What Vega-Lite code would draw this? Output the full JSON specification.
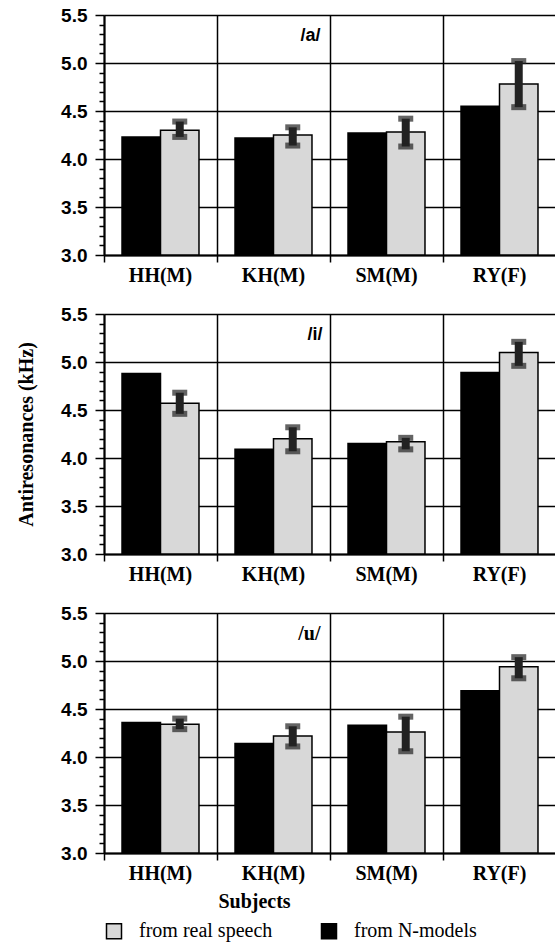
{
  "$schema": "https://vega.github.io/schema/vega-lite/v6.json",
  "background": "white",
  "padding": {"left": 15, "top": 6, "right": 0, "bottom": 0},
  "config": {"view": {"stroke": null}},
  "datasets": {
    "bars": [
      {"vowel": "/a/", "subject": "HH(M)", "source": "from N-models", "value": 4.23},
      {"vowel": "/a/", "subject": "HH(M)", "source": "from real speech", "value": 4.30, "lo": 4.23, "hi": 4.39},
      {"vowel": "/a/", "subject": "KH(M)", "source": "from N-models", "value": 4.22},
      {"vowel": "/a/", "subject": "KH(M)", "source": "from real speech", "value": 4.25, "lo": 4.14, "hi": 4.33},
      {"vowel": "/a/", "subject": "SM(M)", "source": "from N-models", "value": 4.27},
      {"vowel": "/a/", "subject": "SM(M)", "source": "from real speech", "value": 4.28, "lo": 4.13, "hi": 4.42},
      {"vowel": "/a/", "subject": "RY(F)", "source": "from N-models", "value": 4.55},
      {"vowel": "/a/", "subject": "RY(F)", "source": "from real speech", "value": 4.78, "lo": 4.54, "hi": 5.02},
      {"vowel": "/i/", "subject": "HH(M)", "source": "from N-models", "value": 4.88},
      {"vowel": "/i/", "subject": "HH(M)", "source": "from real speech", "value": 4.57, "lo": 4.46, "hi": 4.68},
      {"vowel": "/i/", "subject": "KH(M)", "source": "from N-models", "value": 4.09},
      {"vowel": "/i/", "subject": "KH(M)", "source": "from real speech", "value": 4.20, "lo": 4.07, "hi": 4.32},
      {"vowel": "/i/", "subject": "SM(M)", "source": "from N-models", "value": 4.15},
      {"vowel": "/i/", "subject": "SM(M)", "source": "from real speech", "value": 4.17, "lo": 4.09, "hi": 4.21},
      {"vowel": "/i/", "subject": "RY(F)", "source": "from N-models", "value": 4.89},
      {"vowel": "/i/", "subject": "RY(F)", "source": "from real speech", "value": 5.10, "lo": 4.96, "hi": 5.21},
      {"vowel": "/u/", "subject": "HH(M)", "source": "from N-models", "value": 4.36},
      {"vowel": "/u/", "subject": "HH(M)", "source": "from real speech", "value": 4.34, "lo": 4.29, "hi": 4.40},
      {"vowel": "/u/", "subject": "KH(M)", "source": "from N-models", "value": 4.14},
      {"vowel": "/u/", "subject": "KH(M)", "source": "from real speech", "value": 4.22, "lo": 4.11, "hi": 4.32},
      {"vowel": "/u/", "subject": "SM(M)", "source": "from N-models", "value": 4.33},
      {"vowel": "/u/", "subject": "SM(M)", "source": "from real speech", "value": 4.26, "lo": 4.06, "hi": 4.42},
      {"vowel": "/u/", "subject": "RY(F)", "source": "from N-models", "value": 4.69},
      {"vowel": "/u/", "subject": "RY(F)", "source": "from real speech", "value": 4.94, "lo": 4.82, "hi": 5.04}
    ]
  },
  "data": {"name": "bars"},
  "spacing": 59,
  "bounds": "flush",
  "vconcat": [
    {
      "width": 452, "height": 240,
      "resolve": {"axis": {"y": "independent"}},
      "layer": [
        {
          "transform": [{"filter": "datum.vowel == '/a/'"}],
          "mark": {"type": "bar", "stroke": "black", "strokeWidth": 1.5},
          "encoding": {
            "x": {"field": "subject", "type": "nominal", "sort": ["HH(M)", "KH(M)", "SM(M)", "RY(F)"], "scale": {"paddingInner": 0, "paddingOuter": 0},
              "axis": {"title": null, "bandPosition": 0, "grid": true, "gridColor": "black", "gridWidth": 1.5, "tickSize": 7, "tickWidth": 1.5, "tickColor": "black", "domainColor": "black", "domainWidth": 2, "labelFont": "Liberation Serif", "labelFontWeight": "bold", "labelFontSize": 20, "labelColor": "black", "labelAngle": 0, "labelPadding": 3}},
            "xOffset": {"field": "source", "type": "nominal", "scale": {"domain": ["from N-models", "from real speech"], "paddingInner": 0, "paddingOuter": 0.468}},
            "y": {"field": "value", "type": "quantitative", "scale": {"domain": [3, 5.5], "nice": false, "zero": false},
              "axis": {"title": null, "orient": "left", "values": [3, 3.5, 4, 4.5, 5, 5.5], "format": ".1f", "tickSize": 9,
                "grid": true, "gridColor": "black", "gridWidth": 1.5,
                "domainColor": "black", "domainWidth": 2, "tickColor": "black", "tickWidth": 1.5,
                "labelFont": "Liberation Sans", "labelFontWeight": "bold", "labelFontSize": 19, "labelColor": "black", "labelPadding": 8}},
            "y2": {"datum": 3},
            "color": {"field": "source", "type": "nominal", "scale": {"domain": ["from real speech", "from N-models"], "range": ["#d8d8d8", "#000000"]},
              "legend": {"title": null, "orient": "bottom", "direction": "horizontal", "symbolType": "square", "symbolSize": 225, "symbolStrokeColor": "black", "symbolStrokeWidth": 1.5, "labelFont": "Liberation Serif", "labelFontSize": 20, "labelColor": "black", "labelOffset": 15, "columnPadding": 45, "padding": 0, "offset": 10}}
          }
        },
        {
          "transform": [{"filter": "datum.vowel == '/a/' && datum.source == 'from real speech'"}],
          "mark": {"type": "rule", "strokeWidth": 8, "color": "#222222"},
          "encoding": {
            "x": {"field": "subject", "type": "nominal", "sort": ["HH(M)", "KH(M)", "SM(M)", "RY(F)"], "title": null},
            "xOffset": {"field": "source", "type": "nominal", "scale": {"domain": ["from N-models", "from real speech"]}},
            "y": {"field": "lo", "type": "quantitative",
              "axis": {"title": null, "orient": "left", "values": [3.1, 3.2, 3.3, 3.4, 3.6, 3.7, 3.8, 3.9, 4.1, 4.2, 4.3, 4.4, 4.6, 4.7, 4.8, 4.9, 5.1, 5.2, 5.3, 5.4], "labels": false, "grid": false, "domain": false, "tickSize": 5, "tickColor": "black", "tickWidth": 1.5}},
            "y2": {"field": "hi"}
          }
        },
        {
          "transform": [{"filter": "datum.vowel == '/a/' && datum.source == 'from real speech'"}],
          "mark": {"type": "tick", "thickness": 6, "size": 15, "color": "#222222"},
          "encoding": {
            "x": {"field": "subject", "type": "nominal", "sort": ["HH(M)", "KH(M)", "SM(M)", "RY(F)"], "title": null},
            "xOffset": {"field": "source", "type": "nominal", "scale": {"domain": ["from N-models", "from real speech"]}},
            "y": {"field": "lo", "type": "quantitative", "axis": null}
          }
        },
        {
          "transform": [{"filter": "datum.vowel == '/a/' && datum.source == 'from real speech'"}],
          "mark": {"type": "tick", "thickness": 6, "size": 15, "color": "#222222"},
          "encoding": {
            "x": {"field": "subject", "type": "nominal", "sort": ["HH(M)", "KH(M)", "SM(M)", "RY(F)"], "title": null},
            "xOffset": {"field": "source", "type": "nominal", "scale": {"domain": ["from N-models", "from real speech"]}},
            "y": {"field": "hi", "type": "quantitative", "axis": null}
          }
        },
        {
          "transform": [{"filter": "datum.vowel == '/a/' && datum.subject == 'KH(M)' && datum.source == 'from N-models'"}],
          "mark": {"type": "text", "font": "Liberation Sans", "fontWeight": "bold", "fontSize": 18, "align": "right", "baseline": "middle", "dx": 47, "color": "black"},
          "encoding": {
            "x": {"field": "subject", "type": "nominal", "sort": ["HH(M)", "KH(M)", "SM(M)", "RY(F)"], "title": null},
            "y": {"datum": 5.28, "type": "quantitative", "axis": null},
            "text": {"field": "vowel"}
          }
        }
      ]
    },
    {
      "width": 452, "height": 240,
      "resolve": {"axis": {"y": "independent"}},
      "layer": [
        {
          "transform": [{"filter": "datum.vowel == '/i/'"}],
          "mark": {"type": "bar", "stroke": "black", "strokeWidth": 1.5},
          "encoding": {
            "x": {"field": "subject", "type": "nominal", "sort": ["HH(M)", "KH(M)", "SM(M)", "RY(F)"], "scale": {"paddingInner": 0, "paddingOuter": 0},
              "axis": {"title": null, "bandPosition": 0, "grid": true, "gridColor": "black", "gridWidth": 1.5, "tickSize": 7, "tickWidth": 1.5, "tickColor": "black", "domainColor": "black", "domainWidth": 2, "labelFont": "Liberation Serif", "labelFontWeight": "bold", "labelFontSize": 20, "labelColor": "black", "labelAngle": 0, "labelPadding": 3}},
            "xOffset": {"field": "source", "type": "nominal", "scale": {"domain": ["from N-models", "from real speech"], "paddingInner": 0, "paddingOuter": 0.468}},
            "y": {"field": "value", "type": "quantitative", "scale": {"domain": [3, 5.5], "nice": false, "zero": false},
              "axis": {"title": "Antiresonances (kHz)", "titleFont": "Liberation Serif", "titleFontWeight": "bold", "titleFontSize": 20, "titleColor": "black", "titleX": -78, "titleY": 120, "titleAngle": -90, "titleAlign": "center", "titleBaseline": "middle",
                "orient": "left", "values": [3, 3.5, 4, 4.5, 5, 5.5], "format": ".1f", "tickSize": 9,
                "grid": true, "gridColor": "black", "gridWidth": 1.5,
                "domainColor": "black", "domainWidth": 2, "tickColor": "black", "tickWidth": 1.5,
                "labelFont": "Liberation Sans", "labelFontWeight": "bold", "labelFontSize": 19, "labelColor": "black", "labelPadding": 8}},
            "y2": {"datum": 3},
            "color": {"field": "source", "type": "nominal", "scale": {"domain": ["from real speech", "from N-models"], "range": ["#d8d8d8", "#000000"]},
              "legend": {"title": null, "orient": "bottom", "direction": "horizontal", "symbolType": "square", "symbolSize": 225, "symbolStrokeColor": "black", "symbolStrokeWidth": 1.5, "labelFont": "Liberation Serif", "labelFontSize": 20, "labelColor": "black", "labelOffset": 15, "columnPadding": 45, "padding": 0, "offset": 10}}
          }
        },
        {
          "transform": [{"filter": "datum.vowel == '/i/' && datum.source == 'from real speech'"}],
          "mark": {"type": "rule", "strokeWidth": 8, "color": "#222222"},
          "encoding": {
            "x": {"field": "subject", "type": "nominal", "sort": ["HH(M)", "KH(M)", "SM(M)", "RY(F)"], "title": null},
            "xOffset": {"field": "source", "type": "nominal", "scale": {"domain": ["from N-models", "from real speech"]}},
            "y": {"field": "lo", "type": "quantitative",
              "axis": {"title": null, "orient": "left", "values": [3.1, 3.2, 3.3, 3.4, 3.6, 3.7, 3.8, 3.9, 4.1, 4.2, 4.3, 4.4, 4.6, 4.7, 4.8, 4.9, 5.1, 5.2, 5.3, 5.4], "labels": false, "grid": false, "domain": false, "tickSize": 5, "tickColor": "black", "tickWidth": 1.5}},
            "y2": {"field": "hi"}
          }
        },
        {
          "transform": [{"filter": "datum.vowel == '/i/' && datum.source == 'from real speech'"}],
          "mark": {"type": "tick", "thickness": 6, "size": 15, "color": "#222222"},
          "encoding": {
            "x": {"field": "subject", "type": "nominal", "sort": ["HH(M)", "KH(M)", "SM(M)", "RY(F)"], "title": null},
            "xOffset": {"field": "source", "type": "nominal", "scale": {"domain": ["from N-models", "from real speech"]}},
            "y": {"field": "lo", "type": "quantitative", "axis": null}
          }
        },
        {
          "transform": [{"filter": "datum.vowel == '/i/' && datum.source == 'from real speech'"}],
          "mark": {"type": "tick", "thickness": 6, "size": 15, "color": "#222222"},
          "encoding": {
            "x": {"field": "subject", "type": "nominal", "sort": ["HH(M)", "KH(M)", "SM(M)", "RY(F)"], "title": null},
            "xOffset": {"field": "source", "type": "nominal", "scale": {"domain": ["from N-models", "from real speech"]}},
            "y": {"field": "hi", "type": "quantitative", "axis": null}
          }
        },
        {
          "transform": [{"filter": "datum.vowel == '/i/' && datum.subject == 'KH(M)' && datum.source == 'from N-models'"}],
          "mark": {"type": "text", "font": "Liberation Sans", "fontWeight": "bold", "fontSize": 18, "align": "right", "baseline": "middle", "dx": 49, "color": "black"},
          "encoding": {
            "x": {"field": "subject", "type": "nominal", "sort": ["HH(M)", "KH(M)", "SM(M)", "RY(F)"], "title": null},
            "y": {"datum": 5.28, "type": "quantitative", "axis": null},
            "text": {"field": "vowel"}
          }
        }
      ]
    },
    {
      "width": 452, "height": 240,
      "resolve": {"axis": {"y": "independent"}},
      "layer": [
        {
          "transform": [{"filter": "datum.vowel == '/u/'"}],
          "mark": {"type": "bar", "stroke": "black", "strokeWidth": 1.5},
          "encoding": {
            "x": {"field": "subject", "type": "nominal", "sort": ["HH(M)", "KH(M)", "SM(M)", "RY(F)"], "scale": {"paddingInner": 0, "paddingOuter": 0},
              "axis": {"title": "Subjects", "titleFont": "Liberation Serif", "titleFontWeight": "bold", "titleFontSize": 20, "titleColor": "black", "titleX": 150, "titlePadding": 8, "bandPosition": 0, "grid": true, "gridColor": "black", "gridWidth": 1.5, "tickSize": 7, "tickWidth": 1.5, "tickColor": "black", "domainColor": "black", "domainWidth": 2, "labelFont": "Liberation Serif", "labelFontWeight": "bold", "labelFontSize": 20, "labelColor": "black", "labelAngle": 0, "labelPadding": 3}},
            "xOffset": {"field": "source", "type": "nominal", "scale": {"domain": ["from N-models", "from real speech"], "paddingInner": 0, "paddingOuter": 0.468}},
            "y": {"field": "value", "type": "quantitative", "scale": {"domain": [3, 5.5], "nice": false, "zero": false},
              "axis": {"title": null, "orient": "left", "values": [3, 3.5, 4, 4.5, 5, 5.5], "format": ".1f", "tickSize": 9,
                "grid": true, "gridColor": "black", "gridWidth": 1.5,
                "domainColor": "black", "domainWidth": 2, "tickColor": "black", "tickWidth": 1.5,
                "labelFont": "Liberation Sans", "labelFontWeight": "bold", "labelFontSize": 19, "labelColor": "black", "labelPadding": 8}},
            "y2": {"datum": 3},
            "color": {"field": "source", "type": "nominal", "scale": {"domain": ["from real speech", "from N-models"], "range": ["#d8d8d8", "#000000"]},
              "legend": {"title": null, "orient": "bottom", "direction": "horizontal", "symbolType": "square", "symbolSize": 225, "symbolStrokeColor": "black", "symbolStrokeWidth": 1.5, "labelFont": "Liberation Serif", "labelFontSize": 20, "labelColor": "black", "labelOffset": 15, "columnPadding": 45, "padding": 0, "offset": 10}}
          }
        },
        {
          "transform": [{"filter": "datum.vowel == '/u/' && datum.source == 'from real speech'"}],
          "mark": {"type": "rule", "strokeWidth": 8, "color": "#222222"},
          "encoding": {
            "x": {"field": "subject", "type": "nominal", "sort": ["HH(M)", "KH(M)", "SM(M)", "RY(F)"], "title": "Subjects"},
            "xOffset": {"field": "source", "type": "nominal", "scale": {"domain": ["from N-models", "from real speech"]}},
            "y": {"field": "lo", "type": "quantitative",
              "axis": {"title": null, "orient": "left", "values": [3.1, 3.2, 3.3, 3.4, 3.6, 3.7, 3.8, 3.9, 4.1, 4.2, 4.3, 4.4, 4.6, 4.7, 4.8, 4.9, 5.1, 5.2, 5.3, 5.4], "labels": false, "grid": false, "domain": false, "tickSize": 5, "tickColor": "black", "tickWidth": 1.5}},
            "y2": {"field": "hi"}
          }
        },
        {
          "transform": [{"filter": "datum.vowel == '/u/' && datum.source == 'from real speech'"}],
          "mark": {"type": "tick", "thickness": 6, "size": 15, "color": "#222222"},
          "encoding": {
            "x": {"field": "subject", "type": "nominal", "sort": ["HH(M)", "KH(M)", "SM(M)", "RY(F)"], "title": "Subjects"},
            "xOffset": {"field": "source", "type": "nominal", "scale": {"domain": ["from N-models", "from real speech"]}},
            "y": {"field": "lo", "type": "quantitative", "axis": null}
          }
        },
        {
          "transform": [{"filter": "datum.vowel == '/u/' && datum.source == 'from real speech'"}],
          "mark": {"type": "tick", "thickness": 6, "size": 15, "color": "#222222"},
          "encoding": {
            "x": {"field": "subject", "type": "nominal", "sort": ["HH(M)", "KH(M)", "SM(M)", "RY(F)"], "title": "Subjects"},
            "xOffset": {"field": "source", "type": "nominal", "scale": {"domain": ["from N-models", "from real speech"]}},
            "y": {"field": "hi", "type": "quantitative", "axis": null}
          }
        },
        {
          "transform": [{"filter": "datum.vowel == '/u/' && datum.subject == 'KH(M)' && datum.source == 'from N-models'"}],
          "mark": {"type": "text", "font": "Liberation Serif", "fontWeight": "bold", "fontSize": 20, "align": "right", "baseline": "middle", "dx": 47, "color": "black"},
          "encoding": {
            "x": {"field": "subject", "type": "nominal", "sort": ["HH(M)", "KH(M)", "SM(M)", "RY(F)"], "title": "Subjects"},
            "y": {"datum": 5.28, "type": "quantitative", "axis": null},
            "text": {"field": "vowel"}
          }
        }
      ]
    }
  ]
}
